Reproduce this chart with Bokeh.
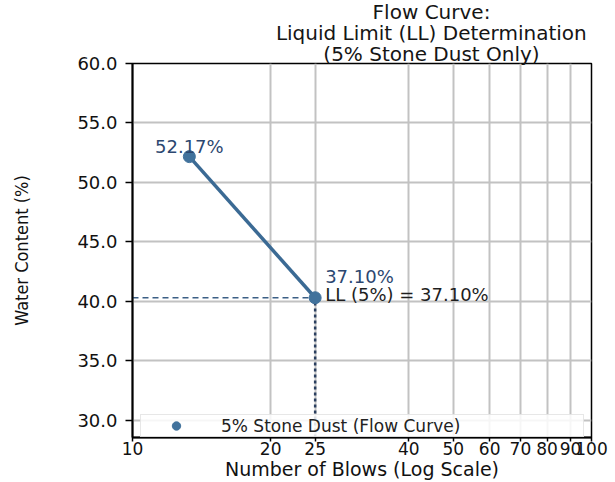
from bokeh.plotting import figure
from bokeh.models import (ColumnDataSource, FixedTicker, NumeralTickFormatter,
                          Title, Legend, LegendItem, Range1d)
from bokeh.core.properties import value
from bokeh.embed import file_html
from bokeh.resources import INLINE

# ---- data ----
blows = [13.3, 25]
water_content = [52.17, 40.3]
point_labels = ["52.17%", "37.10%"]
ll_blows = 25
ll_plot_value = 40.3
ll_text = "LL (5%) = 37.10%"
series_name = "5% Stone Dust (Flow Curve)"
x_ticks = [10, 20, 25, 40, 50, 60, 70, 80, 90, 100]
y_ticks = [30, 35, 40, 45, 50, 55, 60]
title_lines = ["Flow Curve:", "Liquid Limit (LL) Determination", "(5% Stone Dust Only)"]

FONT = "DejaVu Sans"
LINE_COLOR = "#3b6a94"
DOT_COLOR = "#41729c"
TEXT_COLOR = "#2c4770"

p = figure(width=615, height=482, x_axis_type="log", output_backend="svg",
           toolbar_location=None, x_range=Range1d(10, 100), y_range=Range1d(28.55, 60),
           min_border_left=132, min_border_right=24, min_border_top=62, min_border_bottom=44)
p.background_fill_color = "white"
p.border_fill_color = "white"
p.outline_line_color = "black"
p.outline_line_width = 1.5

# grids
p.xgrid.ticker = FixedTicker(ticks=x_ticks)
p.ygrid.ticker = FixedTicker(ticks=y_ticks)
for g in (p.xgrid, p.ygrid):
    g.grid_line_color = "#c2c2c2"
    g.grid_line_width = 2

# axes
p.xaxis.ticker = FixedTicker(ticks=x_ticks)
p.xaxis.formatter = NumeralTickFormatter(format="0")
p.yaxis.ticker = FixedTicker(ticks=y_ticks)
p.yaxis.formatter = NumeralTickFormatter(format="0.0")
for ax in (p.xaxis, p.yaxis):
    ax.axis_line_color = "black"
    ax.axis_line_width = 2
    ax.major_tick_line_color = "black"
    ax.major_tick_line_width = 1.5
    ax.major_tick_in = 0
    ax.minor_tick_line_color = None
    ax.major_label_text_font = FONT
    ax.major_label_text_color = "#111111"
    ax.axis_label_text_font_style = "normal"
    ax.axis_label_text_color = "#111111"

p.xaxis.major_tick_out = 4
p.xaxis.major_label_text_font_size = "17px"
p.xaxis.axis_label = "Number of Blows (Log Scale)"
p.xaxis.axis_label_text_font = FONT
p.xaxis.axis_label_text_font_size = "19px"
p.xaxis.axis_label_standoff = 0
p.xaxis.major_label_standoff = 0

p.yaxis.major_tick_out = 7
p.yaxis.major_label_text_font_size = "18px"
p.yaxis.axis_label = "Water Content (%)"
p.yaxis.axis_label_text_font = "Liberation Sans Narrow, DejaVu Sans Condensed, sans-serif"
p.yaxis.axis_label_text_font_size = "18px"
p.yaxis.axis_label_standoff = 42
p.yaxis.major_label_standoff = 8

src = ColumnDataSource(dict(x=blows, y=water_content, lab=point_labels))

# LL guide lines
p.line(x=[x_ticks[0], ll_blows], y=[ll_plot_value, ll_plot_value], line_color="#3b5f85",
       line_width=1.5, line_dash="6 4")
p.line(x=[ll_blows, ll_blows], y=[p.y_range.start, ll_plot_value], line_color="#2a3f5f",
       line_width=2.5, line_dash="3 3")

# flow curve
p.line("x", "y", source=src, line_color=LINE_COLOR, line_width=3.5)
dots = p.scatter("x", "y", source=src, size=12, fill_color=DOT_COLOR, line_color=DOT_COLOR)

# point labels
p.text(x=[blows[0]], y=[water_content[0]], text=[point_labels[0]], text_align="center",
       text_baseline="alphabetic", y_offset=-10, text_font=value(FONT),
       text_font_size="18px", text_color=TEXT_COLOR)
p.text(x=[blows[1]], y=[water_content[1]], text=[point_labels[1]], text_align="left",
       text_baseline="alphabetic", x_offset=10, y_offset=-21, text_font=value(FONT),
       text_font_size="18px", text_color=TEXT_COLOR)
p.text(x=[ll_blows], y=[ll_plot_value], text=[ll_text], text_align="left",
       text_baseline="alphabetic", x_offset=10, y_offset=-3, text_font=value(FONT),
       text_font_size="18px", text_color="#1e1e1e")

# legend
legend = Legend(items=[LegendItem(label=series_name, renderers=[dots])],
                location=(8, 0), orientation="horizontal",
                glyph_width=70, glyph_height=21, label_width=362, label_standoff=10,
                padding=0, margin=0, spacing=0, label_height=21,
                label_text_font=FONT, label_text_font_size="17px", label_text_color="#222222",
                border_line_color="#cfcfcf", border_line_width=1.5,
                background_fill_color="white", background_fill_alpha=0.85)
p.add_layout(legend, "center")

# title: three lines centred at x≈431 px, stacked outward (last line nearest the frame)
TITLE_SIZE = 20
em_widths = [5.888, 15.562, 10.816]   # DejaVu Sans advance widths in em
centre_from_frame_left = 299
for line_text, em in reversed(list(zip(title_lines, em_widths))):
    off = centre_from_frame_left - em * TITLE_SIZE / 2
    t = Title(text=line_text, align="left", offset=off, standoff=0,
              text_font=FONT, text_font_size=f"{TITLE_SIZE}px",
              text_font_style="normal", text_color="#151515")
    try:
        t.standoff = -5.3
    except Exception:
        t.standoff = 0
    p.add_layout(t, "above")

open("out.html", "w").write(file_html(p, INLINE))
